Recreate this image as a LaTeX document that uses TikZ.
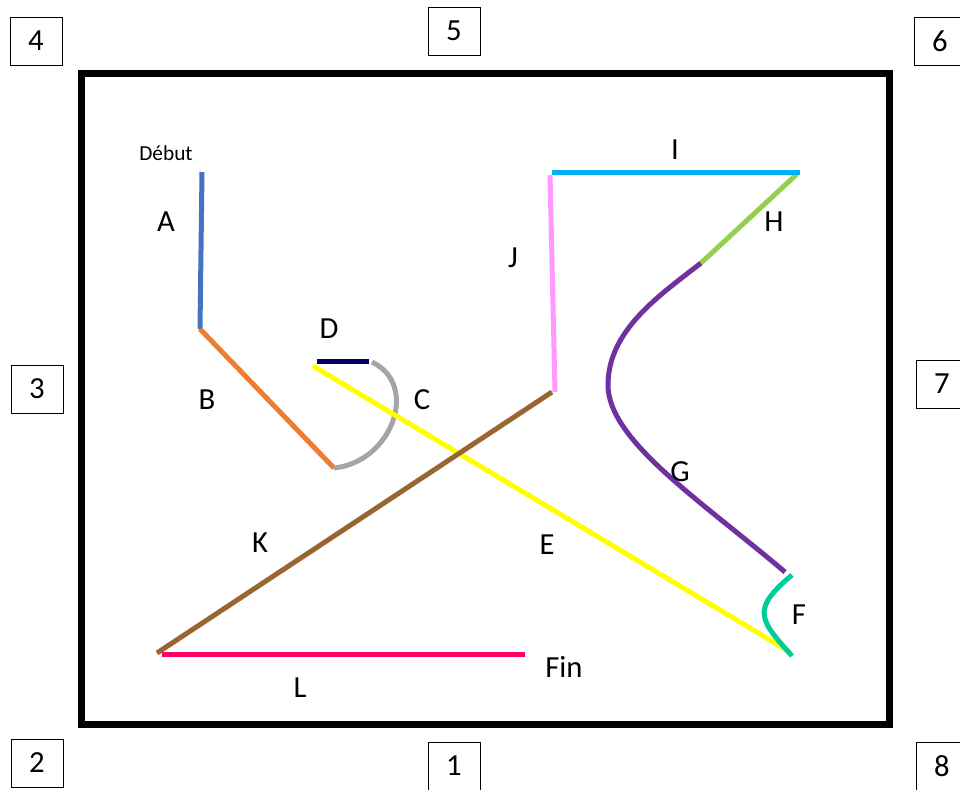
\documentclass[tikz,border=0pt]{standalone}
\usepackage{fontspec}
\setmainfont{Carlito}
\usepackage{xcolor}
\definecolor{segA}{HTML}{4472C4}
\definecolor{segB}{HTML}{ED7D31}
\definecolor{segC}{HTML}{A5A5A5}
\definecolor{segD}{HTML}{000066}
\definecolor{segE}{HTML}{FFFF00}
\definecolor{segF}{HTML}{00CC99}
\definecolor{segG}{HTML}{7030A0}
\definecolor{segH}{HTML}{92D050}
\definecolor{segI}{HTML}{00B0F0}
\definecolor{segJ}{HTML}{FF99FF}
\definecolor{segK}{HTML}{996633}
\definecolor{segL}{HTML}{FF0066}

\begin{document}
\begin{tikzpicture}[x=0.75pt, y=-0.75pt,
    seg/.style={line width=3.75pt},
    numbox/.style={draw, line width=0.75pt, minimum width=39pt, minimum height=36pt,
        inner sep=0pt, font=\fontsize{23}{26}\selectfont},
    lbl/.style={font=\fontsize{23}{26}\selectfont}]
    \useasboundingbox (0,0) rectangle (960,789);
    \clip (0,0) rectangle (960,789);
    % frame
    \draw[line width=5.25pt] (81,73) rectangle (889,724);
    % numbered boxes
    \foreach \n/\x/\y in {4/36/41, 5/454/31, 6/940/41, 3/37/389, 7/942/384, 2/37/763, 1/454/766, 8/942/766}
        \node[numbox] (box\n) at (\x,\y) {\n};
    % end points
    \coordinate (a0) at (202,172);  \coordinate (a1) at (200,329);
    \coordinate (b1) at (334,468);  \coordinate (c1) at (372,362);
    \coordinate (d0) at (369,361);  \coordinate (d1) at (317,361);
    \coordinate (e0) at (313,366);  \coordinate (e1) at (790,652);
    \coordinate (f0) at (792,656);  \coordinate (f1) at (792,575);
    \coordinate (g0) at (785,572);  \coordinate (g1) at (608,385);
    \coordinate (g2) at (701,263);  \coordinate (h1) at (797,174);
    \coordinate (i0) at (800,172);  \coordinate (i1) at (552,172);
    \coordinate (j0) at (550,175);  \coordinate (j1) at (555,392);
    \coordinate (k0) at (552,392);  \coordinate (k1) at (157,653);
    \coordinate (l0) at (162,654);  \coordinate (l1) at (525,654);
    % path pieces
    \draw[seg, segA] (a0) -- (a1);
    \draw[seg, segB] (a1) -- (b1);
    \draw[seg, segC] (b1) .. controls (392,462) and (420,385) .. (c1);
    \draw[seg, segD] (d0) -- (d1);
    \draw[seg, segE] (e0) -- (e1);
    \draw[seg, segF] (f0) .. controls (760,620) and (750,610) .. (f1);
    \draw[seg, segG] (g0) .. controls (700,500) and (608,440) .. (g1)
        .. controls (608,330) and (660,295) .. (g2);
    \draw[seg, segH] (g2) -- (h1);
    \draw[seg, segI] (i0) -- (i1);
    \draw[seg, segJ] (j0) -- (j1);
    \draw[seg, segK] (k0) -- (k1);
    \draw[seg, segL] (l0) -- (l1);
    % labels
    \node[font=\fontsize{16}{19}\selectfont] (debut) at (166,153) {Début};
    \foreach \t/\x/\y in {A/166/222, B/207/400, C/422/400, D/329/329, E/547/545, F/799/615,
        G/680/472, H/774/222, I/675/150, J/513/258, K/260/543, L/300/688, Fin/564/667}
        \node[lbl] (lbl\t) at (\x,\y) {\t};
\end{tikzpicture}
\end{document}
